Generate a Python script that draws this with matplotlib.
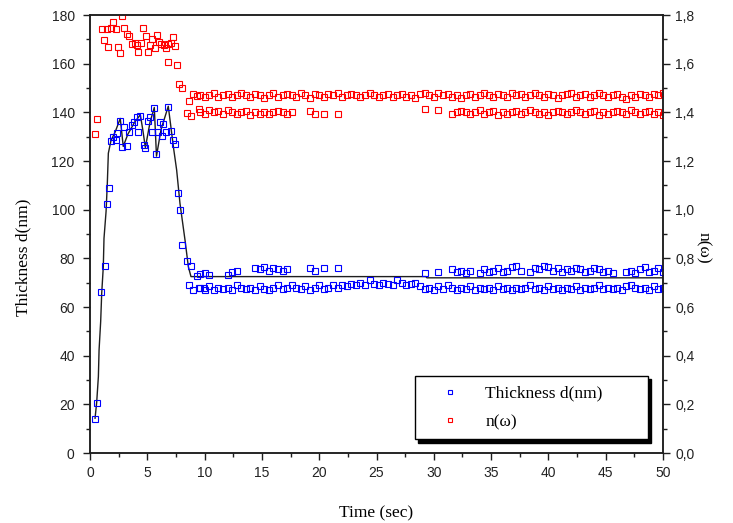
"""
Film thickness d(nm) and index n(w) versus time, two y axes.
"""
import numpy as np
import matplotlib
matplotlib.use('Agg')
import matplotlib.pyplot as plt
from matplotlib.ticker import MultipleLocator, FuncFormatter

N = None

# --- transient part (first ~9.5 s), read point by point
t_d_early = [0.44, 0.61, 0.99, 1.28, 1.46, 1.63, 1.83, 2.0, 2.24, 2.38, 2.64, 2.77,
             3.0, 3.2, 3.38, 3.64, 3.87, 4.08, 4.21, 4.39, 4.69, 4.83, 5.03, 5.24,
             5.44, 5.61, 5.76, 5.91, 6.1, 6.28, 6.4, 6.63, 6.83, 7.04, 7.27, 7.42,
             7.65, 7.83, 8.03, 8.44, 8.64, 8.81, 9.01, 9.31, 9.51, 9.95]
d_early = [13.8, 20.7, 66, 77, 102.3, 109, 128.4, 130, 128.6, 131.6, 136.5, 125.9,
           134, 126.3, 132, 135, 136.2, 138, 131.8, 138.6, 126.6, 125.2, 136.5, 138,
           132, 141.9, 122.8, 132, 136, 130.4, 135.2, 131.8, 142.3, 132.3, 128.6, 126.9,
           106.7, 99.9, 85.5, 78.9, 69, 77, 67, 72.9, 67.7, 68]

t_n_early = [0.44, 0.63, 1.02, 1.22, 1.46, 1.6, 1.83, 2.0, 2.27, 2.42, 2.64, 2.82,
             2.99, 3.2, 3.43, 3.64, 3.93, 4.08, 4.21, 4.42, 4.65, 4.86, 5.06, 5.24,
             5.44, 5.67, 5.82, 6.02, 6.2, 6.43, 6.63, 6.83, 6.83, 7.07, 7.24, 7.42,
             7.62, 7.79, 8.0, 8.44, 8.64, 8.81, 9.01, 9.31, 9.54]
n_early = [1.31, 1.373, 1.743, 1.699, 1.743, 1.669, 1.748, 1.773, 1.741, 1.669, 1.645, 1.796,
           1.748, 1.721, 1.714, 1.682, 1.686, 1.677, 1.649, 1.684, 1.748, 1.714, 1.647, 1.677,
           1.70, 1.666, 1.718, 1.69, 1.681, 1.677, 1.666, 1.68, 1.608, 1.684, 1.709, 1.673,
           1.593, 1.515, 1.499, 1.399, 1.447, 1.384, 1.474, 1.467, 1.413]

# --- steady part, sampled every 0.4 s from 9.6 s to 50 s (None = no point)
t_tail = np.round(np.arange(9.6, 50.01, 0.4), 1)

d_low = [68, 67, 68.5, 67, 68, 67.5, 68, 67, 69, 68,
         67.5, 68, 67, 68.5, 67.5, 67, 68, 69, 67.5, 68,
         69, 68, 67.5, 68.5, 67, 68, 69, 67.5, 68, 69,
         68, 69, 68.5, 69.5, 69, 70, 69, 71, 69.5, 69,
         70, 69.5, 69, 71, 70, 69, 69.5, 70, 68.5, 67.5,
         68, 67, 68.5, 67.5, 69, 68, 67, 68, 67.5, 68.5,
         67, 68, 67.5, 68, 67, 68.5, 67.5, 68, 67, 68,
         67.5, 68, 69, 67.5, 68, 67, 68.5, 67.5, 68, 67,
         68, 67.5, 68.5, 67, 68, 67.5, 68, 69, 67.5, 68,
         67.5, 68, 67, 68.5, 69, 68, 67.5, 68, 67, 68.5, 67.5, 68]
d_high = [73.5, 74, 73, N, N, N, 73, 74.5, 75, N,
          N, N, 76, 75.5, 76.5, 75, 76, 75.5, 75, 75.5,
          N, N, N, N, 76, 75, N, 76, N, N,
          76, N, N, N, N, N, N, N, N, N,
          N, N, N, N, N, N, N, N, N, 74,
          N, N, 74.5, N, N, 75.5, 74.5, 75, 74, 75,
          N, 74, 75.5, 74.5, 75, 76, 74.5, 75, 76.5, 77,
          75, N, 74.5, 76, 75.5, 77, 76.5, 75, 76, 74.5,
          75.5, 75, 76, 75.5, 74.5, 75, 76, 75.5, 74.5, 75,
          74, N, N, 74.5, 75, 74, 75.5, 76.5, 74.5, 75, 76, 74.5]

n_high = [1.47, 1.465, 1.47, 1.48, 1.465, 1.47, 1.475, 1.465, 1.47, 1.48,
          1.47, 1.465, 1.475, 1.47, 1.46, 1.47, 1.48, 1.465, 1.47, 1.475,
          1.47, 1.465, 1.48, 1.47, 1.46, 1.475, 1.47, 1.465, 1.475, 1.47,
          1.48, 1.465, 1.47, 1.475, 1.47, 1.465, 1.47, 1.48, 1.47, 1.465,
          1.47, 1.475, 1.465, 1.47, 1.475, 1.465, 1.47, 1.46, 1.475, 1.48,
          1.47, 1.465, 1.48, 1.47, 1.475, 1.465, 1.47, 1.46, 1.47, 1.475,
          1.465, 1.47, 1.48, 1.47, 1.465, 1.475, 1.47, 1.465, 1.48, 1.47,
          1.475, 1.465, 1.47, 1.48, 1.47, 1.465, 1.475, 1.47, 1.46, 1.47,
          1.475, 1.48, 1.465, 1.47, 1.475, 1.465, 1.47, 1.48, 1.47, 1.465,
          1.47, 1.475, 1.465, 1.455, 1.47, 1.465, 1.475, 1.47, 1.465, 1.475, 1.47, 1.48]
n_low = [1.40, 1.395, 1.41, 1.40, 1.405, 1.395, 1.41, 1.40, 1.395, 1.40,
         1.405, 1.39, 1.40, 1.395, 1.40, 1.395, 1.40, 1.405, 1.40, 1.395,
         1.40, N, N, N, 1.405, 1.395, N, 1.395, N, N,
         1.395, N, N, N, N, N, N, N, N, N,
         N, N, N, N, N, N, N, N, N, 1.415,
         N, N, 1.41, N, N, 1.395, 1.40, 1.405, 1.40, 1.395,
         1.40, 1.41, 1.395, 1.40, 1.405, 1.39, 1.40, 1.395, 1.40, 1.405,
         1.395, 1.40, 1.41, 1.40, 1.395, 1.40, 1.39, 1.40, 1.405, 1.40,
         1.395, 1.40, 1.41, 1.40, 1.395, 1.40, 1.405, 1.39, 1.40, 1.395,
         1.40, 1.405, 1.40, 1.395, 1.41, 1.40, 1.395, 1.40, 1.405, 1.395, 1.40, 1.39]

# --- black guide line through the thickness data
t_fit = [0.44, 0.58, 0.73, 0.79, 0.93, 1.02, 1.16, 1.22, 1.4, 1.51, 1.6, 1.83,
         2.2, 2.64, 2.9, 3.3, 3.9, 4.39, 4.6, 4.83, 5.24, 5.61, 5.8, 6.2, 6.83,
         6.98, 7.3, 7.56, 7.85, 8.29, 8.58, 8.81, 29.3, 29.4, 50]
d_fit = [14.3, 20.7, 31.4, 42.3, 54, 65.6, 76.6, 88.2, 99.2, 110.8, 123.2, 128.4,
         132, 137.5, 126, 131, 136, 139, 133, 125.5, 136, 142, 122, 133, 142.5,
         136.9, 125, 116.3, 102.6, 87.5, 76.6, 72.5, 72.5, 72, 72]

SERIF = 'Liberation Serif'
SANS = 'Liberation Sans'


def plot_thickness_index():
    fig = plt.figure(figsize=(7.33, 5.23), dpi=100)
    ax = fig.add_axes([0.1228, 0.1338, 0.7817, 0.8375])
    ax2 = ax.twinx()

    mk = dict(ls='none', marker='s', ms=3.8, mew=0.8, mfc='none')
    ax.plot(t_fit, d_fit, color='#1e1e1e', lw=1.0, zorder=2)
    h1, = ax.plot(t_d_early, d_early, mec='#0000ff', zorder=3, **mk)
    ax.plot(t_tail, np.array(d_low, dtype=float), mec='#0000ff', zorder=3, **mk)
    ax.plot(t_tail, np.array(d_high, dtype=float), mec='#0000ff', zorder=3, **mk)

    h2, = ax2.plot(t_n_early, n_early, mec='#ff0000', **mk)
    ax2.plot(t_tail, np.array(n_high, dtype=float), mec='#ff0000', **mk)
    ax2.plot(t_tail, np.array(n_low, dtype=float), mec='#ff0000', **mk)

    ax.set_xlim(0, 50)
    ax.set_ylim(0, 180)
    ax2.set_ylim(0, 1.8)

    ax.xaxis.set_major_locator(MultipleLocator(5))
    ax.xaxis.set_minor_locator(MultipleLocator(2.5))
    ax.yaxis.set_major_locator(MultipleLocator(20))
    ax.yaxis.set_minor_locator(MultipleLocator(10))
    ax2.yaxis.set_major_locator(MultipleLocator(0.2))
    ax2.yaxis.set_minor_locator(MultipleLocator(0.1))
    ax2.yaxis.set_major_formatter(FuncFormatter(lambda v, _: f'{v:.1f}'.replace('.', ',')))

    for a in (ax, ax2):
        for s in a.spines.values():
            s.set_linewidth(1.1)
            s.set_color('#1e1e1e')
        a.tick_params(which='major', direction='out', length=5, width=1.0,
                      color='#1e1e1e', labelsize=10, labelcolor='#222222')
        a.tick_params(which='minor', direction='out', length=3, width=1.0, color='#1e1e1e')
        for lab in a.get_xticklabels() + a.get_yticklabels():
            lab.set_family(SANS)
    ax.tick_params(axis='y', which='major', pad=6)
    ax.tick_params(axis='x', which='major', pad=4)
    ax2.tick_params(axis='y', which='major', pad=4)

    ax.set_xlabel('Time (sec)', family=SERIF, fontsize=12.5)
    ax.xaxis.set_label_coords(0.5, -0.12)
    ax.set_ylabel('Thickness d(nm)', family=SERIF, fontsize=12.5, va='center', ha='center')
    ax.yaxis.set_label_coords(-0.117, 0.447)
    ax2.set_ylabel('n(ω)', family=SERIF, fontsize=12.5, rotation=-90, va='center', ha='center')
    ax2.yaxis.set_label_coords(1.07, 0.468)

    leg = ax2.legend([h1, h2], ['Thickness d(nm)', 'n(ω)'],
                     loc='upper left', bbox_to_anchor=(0.567, 0.03, 0.407, 0.146),
                     mode='expand', borderaxespad=0, fancybox=False,
                     shadow={'color': 'black', 'alpha': 1, 'ox': 2.2, 'oy': -2.2},
                     framealpha=1, edgecolor='black', borderpad=0.55,
                     handlelength=3.0, handletextpad=0.5, labelspacing=0.7,
                     markerscale=0.8, prop={'family': SERIF, 'size': 12.5})
    leg.get_frame().set_linewidth(1.0)

    fig.savefig('out.png', dpi=100)


if __name__ == "__main__":
    plot_thickness_index()
